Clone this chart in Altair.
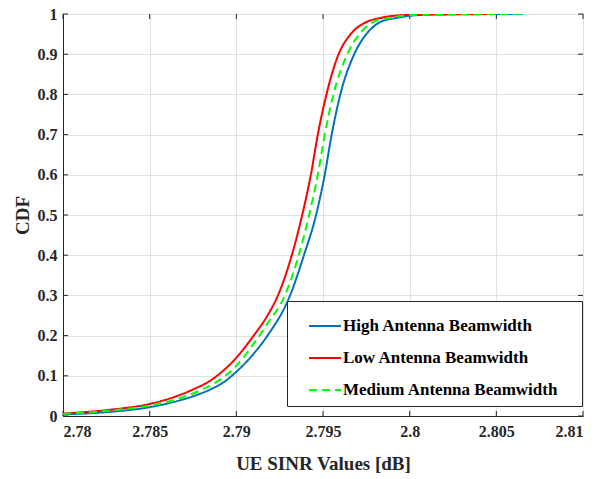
import altair as alt
import pandas as pd

# Empirical CDF of UE SINR for three antenna beamwidth settings
high_x = [2.7800, 2.7826, 2.7850, 2.7864, 2.7875, 2.7885, 2.7893, 2.7900, 2.7910, 2.7918,
          2.7931, 2.7939, 2.7946, 2.7951, 2.7955, 2.7960, 2.7968, 2.7975, 2.7983, 2.7992,
          2.8004, 2.8020, 2.8065]
high_p = [0.004, 0.010, 0.022, 0.035, 0.049, 0.066, 0.085, 0.110, 0.155, 0.200,
          0.300, 0.400, 0.500, 0.600, 0.700, 0.800, 0.900, 0.950, 0.980, 0.990,
          0.997, 0.999, 1.000]

low_x = [2.7800, 2.7826, 2.7850, 2.7864, 2.7875, 2.7885, 2.7893, 2.7900, 2.7910, 2.7918,
         2.7924, 2.7932, 2.7938, 2.7943, 2.7947, 2.7952, 2.7959, 2.7966, 2.7975, 2.7983,
         2.7995, 2.8010, 2.8045]
low_p = [0.006, 0.015, 0.030, 0.047, 0.066, 0.088, 0.115, 0.145, 0.200, 0.250,
         0.300, 0.400, 0.500, 0.600, 0.700, 0.800, 0.900, 0.950, 0.980, 0.990,
         0.997, 0.999, 1.000]

med_x = [2.7800, 2.7826, 2.7850, 2.7864, 2.7875, 2.7885, 2.7893, 2.7900, 2.7910, 2.7918,
         2.7928, 2.7936, 2.7942, 2.7947, 2.7951, 2.7956, 2.7964, 2.7971, 2.7979, 2.7988,
         2.7999, 2.8015, 2.8065]
med_p = [0.005, 0.013, 0.026, 0.040, 0.056, 0.076, 0.098, 0.125, 0.180, 0.230,
         0.300, 0.400, 0.500, 0.600, 0.700, 0.800, 0.900, 0.950, 0.980, 0.990,
         0.997, 0.999, 1.000]

series_names = ["High Antenna Beamwidth", "Low Antenna Beamwidth", "Medium Antenna Beamwidth"]
series_colors = ["#0072BD", "#FF0000", "#00FF00"]
series_dash = [[1, 0], [1, 0], [8, 5]]

x_ticks = [2.78, 2.785, 2.79, 2.795, 2.8, 2.805, 2.81]
y_ticks = [0, 0.1, 0.2, 0.3, 0.4, 0.5, 0.6, 0.7, 0.8, 0.9, 1]

frames = []
for name, xs, ps in zip(series_names, [high_x, low_x, med_x], [high_p, low_p, med_p]):
    frames.append(pd.DataFrame({"sinr": xs, "cdf": ps, "series": name, "order": range(len(xs))}))
df = pd.concat(frames, ignore_index=True)

FONT = "Liberation Serif"
AXIS_COLOR = "#262626"
GRID_COLOR = "#e1e1e1"
W, H = 520, 402

x_scale = alt.Scale(domain=[2.78, 2.81], nice=False, zero=False)
y_scale = alt.Scale(domain=[0, 1], nice=False)

x_axis = alt.Axis(values=x_ticks, labelExpr="format(datum.value, '~g')", title="UE SINR Values [dB]",
                  grid=True, gridColor=GRID_COLOR, gridWidth=1, ticks=False, labelPadding=7,
                  domainColor=AXIS_COLOR, titlePadding=15)
y_axis = alt.Axis(values=y_ticks, labelExpr="format(datum.value, '~g')", title="CDF",
                  grid=True, gridColor=GRID_COLOR, gridWidth=1, ticks=False, labelPadding=6,
                  domainColor=AXIS_COLOR, titlePadding=5)

lines = alt.Chart(df).mark_line(strokeWidth=2, interpolate="monotone", clip=True).encode(
    x=alt.X("sinr:Q", scale=x_scale, axis=x_axis),
    y=alt.Y("cdf:Q", scale=y_scale, axis=y_axis),
    order="order:Q",
    color=alt.Color("series:N", scale=alt.Scale(domain=series_names, range=series_colors),
                    legend=alt.Legend(title="\u00a0", titleOrient="right", titlePadding=16,
                                      titleFontSize=17, titleFont=FONT,
                                      orient="none", legendX=224, legendY=287,
                                      symbolType="stroke", symbolSize=1024, symbolStrokeWidth=2,
                                      symbolOffset=13, labelOffset=1, padding=8, rowPadding=7,
                                      labelLimit=500,
                                      labelFont=FONT, labelFontSize=17, labelFontWeight="bold",
                                      labelColor="#000000", strokeColor=AXIS_COLOR,
                                      fillColor="#ffffff", cornerRadius=0)),
    strokeDash=alt.StrokeDash("series:N", scale=alt.Scale(domain=series_names, range=series_dash),
                              legend=None),
)

# Inward tick marks on all four sides of the box
xt = pd.DataFrame({"v": x_ticks})
yt = pd.DataFrame({"v": y_ticks})
tick_style = dict(color=AXIS_COLOR, strokeWidth=1)
xb = alt.Chart(xt).mark_rule(**tick_style).encode(x=alt.X("v:Q", scale=x_scale), y=alt.value(H), y2=alt.value(H - 5))
xtp = alt.Chart(xt).mark_rule(**tick_style).encode(x=alt.X("v:Q", scale=x_scale), y=alt.value(0), y2=alt.value(5))
yl = alt.Chart(yt).mark_rule(**tick_style).encode(y=alt.Y("v:Q", scale=y_scale), x=alt.value(0), x2=alt.value(5))
yr = alt.Chart(yt).mark_rule(**tick_style).encode(y=alt.Y("v:Q", scale=y_scale), x=alt.value(W), x2=alt.value(W - 5))

chart = alt.layer(xb, xtp, yl, yr, lines).properties(
    width=W, height=H,
    background="#ffffff",
    autosize=alt.AutoSizeParams(type="none"),
    padding={"left": 63, "top": 14, "right": 25, "bottom": 63},
).configure_view(
    stroke=AXIS_COLOR, strokeWidth=1,
).configure_axis(
    labelFont=FONT, labelFontSize=16, labelFontWeight="bold", labelColor="#262626",
    titleFont=FONT, titleFontSize=19, titleFontWeight="bold", titleColor="#262626",
)

chart.save("out.html", embed_options={"renderer": "svg", "actions": False})
